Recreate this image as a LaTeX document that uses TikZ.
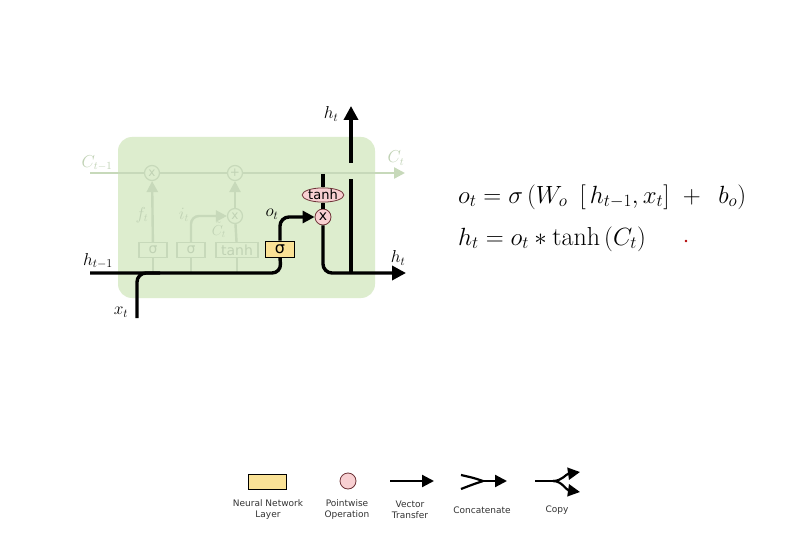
\documentclass[tikz,border=0pt]{standalone}
\usepackage{amsmath, amssymb}
\usepackage{fontspec}
\newfontfamily\dejavu{DejaVu Sans}
\usetikzlibrary{calc,shapes,arrows.meta}

\definecolor{cellgreen}{RGB}{221,237,206}
\definecolor{fadeline}{RGB}{199,217,186}
\definecolor{fadetext}{RGB}{192,210,180}
\definecolor{layeryel}{RGB}{250,226,150}
\definecolor{oppink}{RGB}{248,208,210}
\definecolor{opline}{RGB}{110,50,55}

\tikzset{
    bold/.style={line width=3.4pt},
    tip/.style={-{Triangle[length=14pt,width=14pt]}},
    smalltip/.style={-{Triangle[length=12pt,width=12pt]}},
    faded/.style={draw=fadeline, line width=2.4pt},
    fadetip/.style={-{Triangle[length=11pt,width=11pt]}},
    layer/.style={draw=black, line width=0.9pt, fill=layeryel, inner sep=0pt,
        minimum width=29pt, minimum height=16pt, font=\dejavu\fontsize{16}{16}\selectfont},
    fadedlayer/.style={draw=fadeline, line width=1.2pt, fill=cellgreen, inner sep=0pt,
        minimum width=28pt, minimum height=15pt, text=fadetext, font=\dejavu\fontsize{14}{14}\selectfont},
    pointop/.style={circle, draw=opline, line width=0.8pt, fill=oppink, inner sep=0pt,
        minimum size=16pt, font=\dejavu\fontsize{14}{14}\selectfont},
    fadedop/.style={circle, draw=fadeline, line width=1.2pt, fill=cellgreen, inner sep=0pt,
        minimum size=15pt, text=fadetext, font=\dejavu\fontsize{12}{12}\selectfont},
    label/.style={font=\fontsize{17}{17}\selectfont},
    fadelabel/.style={font=\fontsize{16}{16}\selectfont, text=fadetext},
    legend/.style={font=\dejavu\fontsize{9}{11}\selectfont, align=center, text=black!80},
    formula/.style={font=\fontsize{26}{30}\selectfont, anchor=west, inner sep=0pt}
}

\begin{document}
\begin{tikzpicture}[x=1pt,y=-1pt]
    \useasboundingbox[fill=white] (0,0) rectangle (802,545);

    % the cell
    \fill[cellgreen, rounded corners=14pt] (118,137) rectangle (375,298);

    % faded part of the cell
    \coordinate (cprev) at (90,173);
    \coordinate (cnext) at (405,173);
    \draw[faded, fadetip] (cprev) -- (cnext);
    \node[fadedop] (fmul) at (152,173) {x};
    \node[fadedop] (cadd) at (235,173) {+};
    \node[fadedop] (imul) at (235,216) {x};
    \node[fadedlayer] (fsig) at (153,250) {σ};
    \node[fadedlayer] (isig) at (191,250) {σ};
    \node[fadedlayer, minimum width=42pt] (ctanh) at (237,250) {tanh};
    \foreach \g in {fsig,isig,ctanh}
        \draw[faded] (\g.south) -- (\g.south |- 0,272);
    \draw[faded, fadetip] (fsig) -- (fmul);
    \draw[faded, fadetip, rounded corners=8pt] (isig.north) |- (imul.west);
    \draw[faded] (ctanh) -- (imul);
    \draw[faded, fadetip] (imul) -- (cadd);
    \node[fadelabel] (flab) at (142,215) {$f_t$};
    \node[fadelabel] (ilab) at (184,215) {$i_t$};
    \node[fadelabel, font=\fontsize{14}{14}\selectfont] (clab) at (219,230) {$\tilde{C}_t$};
    \node[fadelabel] (cprevlab) at (97,163) {$C_{t-1}$};
    \node[fadelabel] (cnextlab) at (396,158) {$C_t$};

    % output gate
    \node[layer] (sigo) at (280,249) {σ};
    \node[pointop] (mulo) at (323,217) {x};
    \node[pointop, ellipse, minimum width=41pt, minimum height=14pt,
        font=\dejavu\fontsize{13}{13}\selectfont] (tanhc) at (323,195) {tanh};

    \coordinate (hprev) at (90,273);
    \coordinate (xin) at (137,318);
    \coordinate (ctap) at (323,174);
    \coordinate (hout) at (406,273);
    \coordinate (hsplit) at (351,273);
    \coordinate (hgap) at (351,179);
    \coordinate (hgapend) at (351,163);
    \coordinate (htop) at (351,106);

    \draw[bold, rounded corners=9pt] (hprev) -- (281,273) -- (sigo.south);
    \draw[bold, rounded corners=9pt] (xin) -- (137,273) -- (160,273);
    \draw[bold, smalltip, rounded corners=9pt] (sigo.north) |- (mulo.west);
    \draw[bold] (ctap) -- (tanhc.north);
    \draw[bold] (tanhc) -- (mulo);
    \draw[bold, tip, rounded corners=9pt] (mulo.south) |- (hout);
    \draw[bold] (hsplit) -- (hgap);
    \draw[bold, tip] (hgapend) -- (htop);

    \node[label] (hprevlab) at (98,261) {$h_{t-1}$};
    \node[label] (xlab) at (121,312) {$x_t$};
    \node[label] (olab) at (272,214) {$o_t$};
    \node[label] (htoplab) at (331,114) {$h_t$};
    \node[label] (houtlab) at (398,258) {$h_t$};

    % equations
    \node[formula] (eqo) at (458,197)
        {$o_t = \sigma\,(W_o\ \,[\,h_{t-1}, x_t]\ +\ \,b_o)$};
    \node[formula] (eqh) at (458,239)
        {$h_t = o_t * \tanh\,(C_t)$};
    \fill[red!70!black] (686,241) circle (1.3pt);

    % legend
    \node[layer, minimum width=38pt, minimum height=15pt] (nnl) at (267,482) {};
    \node[pointop, minimum size=16pt] (pwo) at (348,481) {};
    \coordinate (vta) at (390,481);
    \coordinate (vtb) at (434,481);
    \draw[line width=2.2pt, smalltip] (vta) -- (vtb);
    \coordinate (cca) at (461,475);
    \coordinate (ccb) at (461,489);
    \coordinate (ccm) at (483,481);
    \coordinate (cce) at (507,481);
    \draw[line width=2.2pt] (cca) .. controls (474,478) .. (ccm);
    \draw[line width=2.2pt] (ccb) .. controls (474,484) .. (ccm);
    \draw[line width=2.2pt, smalltip] (ccm) -- (cce);
    \coordinate (cpa) at (535,481);
    \coordinate (cpm) at (553,481);
    \coordinate (cpu) at (580,472);
    \coordinate (cpd) at (580,492);
    \draw[line width=2.2pt] (cpa) -- (cpm);
    \draw[line width=2.2pt, smalltip] (cpm) .. controls (562,481) and (566,474) .. (cpu);
    \draw[line width=2.2pt, smalltip] (cpm) .. controls (562,481) and (566,490) .. (cpd);

    \node[legend] (nnllab) at (268,510) {Neural Network\\Layer};
    \node[legend] (pwolab) at (347,510) {Pointwise\\Operation};
    \node[legend] (vtlab) at (410,510) {Vector\\Transfer};
    \node[legend] (cclab) at (482,510) {Concatenate};
    \node[legend] (cplab) at (557,510) {Copy};
\end{tikzpicture}
\end{document}
